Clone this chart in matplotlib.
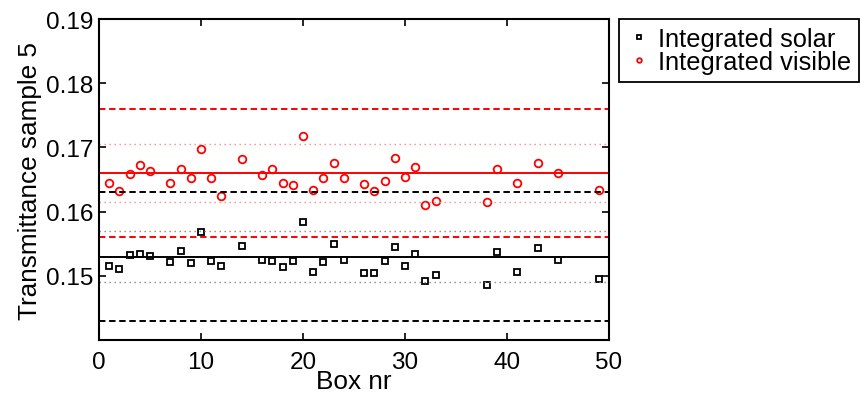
import matplotlib
matplotlib.use("Agg")
import matplotlib.pyplot as plt

plt.rcParams['font.family'] = ['Liberation Sans', 'DejaVu Sans']

boxes = [1, 2, 3, 4, 5, 7, 8, 9, 10, 11, 12, 14, 16, 17, 18, 19, 20, 21, 22, 23,
         24, 26, 27, 28, 29, 30, 31, 32, 33, 38, 39, 41, 43, 45, 49]
solar = [0.1516, 0.1511, 0.1532, 0.1534, 0.1531, 0.1522, 0.1539, 0.1520, 0.1569, 0.1523,
         0.1515, 0.1547, 0.1525, 0.1523, 0.1513, 0.1523, 0.1584, 0.1506, 0.1521, 0.1549,
         0.1525, 0.1504, 0.1504, 0.1523, 0.1545, 0.1515, 0.1534, 0.1492, 0.1501, 0.1486,
         0.1537, 0.1506, 0.1544, 0.1525, 0.1495]
visible = [0.1644, 0.1632, 0.1659, 0.1672, 0.1663, 0.1644, 0.1667, 0.1653, 0.1697, 0.1652,
           0.1625, 0.1682, 0.1657, 0.1667, 0.1644, 0.1642, 0.1717, 0.1633, 0.1653, 0.1676,
           0.1652, 0.1643, 0.1632, 0.1647, 0.1683, 0.1654, 0.1670, 0.1611, 0.1617, 0.1615,
           0.1667, 0.1644, 0.1675, 0.1660, 0.1634]

solar_mean = 0.153
solar_dash = [0.143, 0.163]
solar_dot = [0.149, 0.157]
vis_mean = 0.166
vis_dash = [0.156, 0.176]
vis_dot = [0.1615, 0.1705]

xticks = [0, 10, 20, 30, 40, 50]
yticks = [0.15, 0.16, 0.17, 0.18, 0.19]

fig = plt.figure(figsize=(8.62, 4.02), dpi=100)
ax = fig.add_axes([99/862, 1-341/402, 510/862, 321/402])

fs_tick = 17.5
fs_lab = 18.8
fs_leg = 18.3

ax.plot(boxes, solar, linestyle='none', marker='s', markersize=4.5,
        markerfacecolor='none', markeredgecolor='black', markeredgewidth=1.3,
        label='Integrated solar')
ax.plot(boxes, visible, linestyle='none', marker='o', markersize=5.5,
        markerfacecolor='none', markeredgecolor='red', markeredgewidth=1.3,
        label='Integrated visible')

ax.axhline(solar_mean, color='black', lw=1.4)
for v in solar_dash:
    ax.axhline(v, color='black', lw=1.4, linestyle=(0, (3.3, 1.9)))
for v in solar_dot:
    ax.axhline(v, color='#888888', lw=1.0, linestyle=(0, (1, 2.6)))
ax.axhline(vis_mean, color='red', lw=1.4)
for v in vis_dash:
    ax.axhline(v, color='red', lw=1.4, linestyle=(0, (3.3, 1.9)))
for v in vis_dot:
    ax.axhline(v, color='#ff8888', lw=1.0, linestyle=(0, (1, 2.6)))

ax.set_xlim(0, 50)
ax.set_ylim(0.14, 0.19)
ax.set_xticks(xticks)
ax.set_yticks(yticks)
ax.set_yticklabels(['%.2f' % t for t in yticks])
ax.tick_params(direction='in', length=5, width=1.2, top=True, right=True,
               labelsize=fs_tick)
ax.tick_params(axis='x', pad=8)
ax.tick_params(axis='y', pad=4)
for s in ax.spines.values():
    s.set_linewidth(1.5)

ax.set_xlabel('Box nr', fontsize=fs_lab, labelpad=-3)
ax.set_ylabel('Transmittance sample 5', fontsize=fs_lab, labelpad=3)

leg = ax.legend(loc='upper left', bbox_to_anchor=(1.0196, 1.0), fontsize=fs_leg,
                frameon=True, fancybox=False, edgecolor='black', framealpha=1,
                markerscale=0.6, handlelength=0.9, handletextpad=0.3,
                borderpad=0.32, labelspacing=-0.05, borderaxespad=0)
leg.get_frame().set_linewidth(1.3)

fig.savefig('out.png', dpi=100)
